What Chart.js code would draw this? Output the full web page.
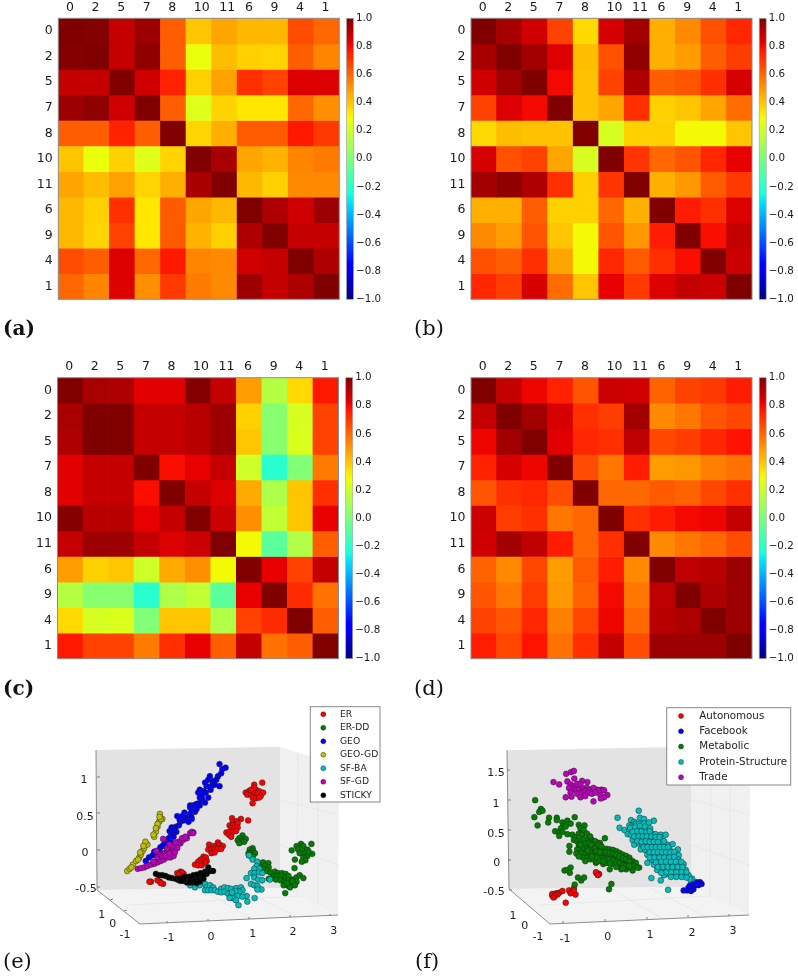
<!DOCTYPE html>
<html><head><meta charset="utf-8">
<script src="https://cdn.jsdelivr.net/npm/chart.js@4"></script>
<style>
html,body{margin:0;padding:0;background:#fff;width:798px;height:976px;overflow:hidden}
canvas{position:absolute;display:block}
.tag{position:absolute;font-family:"DejaVu Serif",serif;font-size:20px;line-height:24px;color:#111}
</style></head><body>
<script>
const rowLabels=['0','2','5','7','8','10','11','6','9','4','1'];
const colLabels=['0','2','5','7','8','10','11','6','9','4','1'];
const matA=[
[1.0,.99,.88,.95,.62,.40,.47,.43,.43,.66,.60],
[.99,1.0,.88,.97,.62,.27,.42,.38,.37,.62,.54],
[.88,.88,1.0,.86,.75,.38,.48,.72,.68,.84,.84],
[.95,.97,.86,1.0,.62,.24,.37,.33,.33,.60,.52],
[.62,.62,.75,.62,1.0,.37,.45,.63,.63,.77,.70],
[.40,.27,.38,.24,.37,1.0,.93,.47,.44,.54,.56],
[.47,.42,.48,.37,.45,.93,1.0,.43,.38,.53,.53],
[.43,.38,.72,.33,.63,.47,.43,1.0,.92,.86,.95],
[.43,.37,.68,.33,.63,.44,.38,.92,1.0,.88,.88],
[.66,.62,.84,.60,.77,.54,.53,.86,.88,1.0,.92],
[.60,.54,.84,.52,.70,.56,.53,.95,.88,.92,1.0]];
const matB=[
[1.0,.93,.86,.68,.36,.85,.94,.45,.53,.65,.74],
[.93,1.0,.94,.84,.42,.65,.97,.45,.49,.62,.69],
[.86,.94,1.0,.80,.41,.68,.92,.62,.64,.72,.85],
[.68,.84,.80,1.0,.41,.47,.72,.38,.40,.47,.59],
[.36,.42,.41,.41,1.0,.22,.38,.38,.29,.29,.40],
[.85,.65,.68,.47,.22,1.0,.71,.60,.64,.74,.82],
[.94,.97,.92,.72,.38,.71,1.0,.45,.50,.63,.70],
[.45,.45,.62,.38,.38,.60,.45,1.0,.76,.72,.84],
[.53,.49,.64,.40,.29,.64,.50,.76,1.0,.79,.88],
[.65,.62,.72,.47,.29,.74,.63,.72,.79,1.0,.87],
[.74,.69,.85,.59,.40,.82,.70,.84,.88,.87,1.0]];
const matC=[
[1.0,.93,.92,.83,.83,.99,.88,.49,.14,.36,.77],
[.93,1.0,1.0,.88,.88,.90,.95,.38,.03,.22,.68],
[.92,1.0,1.0,.88,.88,.90,.95,.40,.03,.23,.68],
[.83,.88,.88,1.0,.79,.82,.88,.20,-.20,.01,.56],
[.83,.88,.88,.79,1.0,.88,.84,.46,.12,.40,.72],
[.99,.90,.90,.82,.88,1.0,.87,.52,.17,.40,.82],
[.88,.95,.95,.88,.84,.87,1.0,.29,-.08,.13,.62],
[.49,.38,.40,.20,.46,.52,.29,1.0,.82,.68,.88],
[.14,.03,.03,-.20,.12,.17,-.08,.82,1.0,.73,.58],
[.36,.22,.23,.01,.40,.40,.13,.68,.73,1.0,.62],
[.77,.68,.68,.56,.72,.82,.62,.88,.58,.62,1.0]];
const matD=[
[1.0,.88,.81,.75,.64,.87,.86,.61,.68,.70,.76],
[.88,1.0,.94,.85,.72,.69,.94,.53,.57,.64,.67],
[.81,.94,1.0,.83,.74,.72,.89,.67,.69,.74,.78],
[.75,.85,.81,1.0,.66,.57,.76,.49,.50,.55,.58],
[.64,.72,.74,.66,1.0,.60,.60,.63,.61,.67,.72],
[.87,.69,.72,.57,.60,1.0,.72,.76,.80,.81,.88],
[.86,.94,.89,.76,.60,.72,1.0,.53,.57,.60,.66],
[.61,.53,.67,.49,.63,.76,.53,1.0,.89,.90,.95],
[.64,.57,.69,.50,.61,.80,.57,.89,1.0,.92,.95],
[.68,.64,.74,.55,.67,.81,.60,.90,.92,1.0,.95],
[.76,.67,.78,.58,.72,.88,.66,.95,.95,.95,1.0]];

const synthNames=['ER','ER-DD','GEO','GEO-GD','SF-BA','SF-GD','STICKY'];
const synthColors=['#ff0000','#008000','#0000ff','#bfbf00','#00bfbf','#bf00bf','#000000'];
const erPts=[[1.15,.91],[1.35,.94],[.94,.80],[1.02,.82],[1.11,.84],[1.19,.84],[1.27,.82],[1.37,.80],[.98,.77],[1.07,.78],[1.15,.80],[1.23,.78],[1.31,.75],[1.11,.73],[1.19,.72],[1.27,.73],[1.11,.65],[1.15,.87],[1.07,.84],
[.6,.44],[.82,.43],[1.0,.41],[.62,.39],[.72,.40],[.54,.34],[.63,.34],[.74,.37],[.58,.30],[.66,.30],[.74,.31],[.46,.24],[.54,.25],[.62,.25],[.70,.26],[.52,.21],[.58,.18],
[.03,.07],[.25,.10],[.13,.05],[.21,.05],[.29,.07],[.37,.05],[.01,0],[.09,0],[.17,.01],[.25,.01],[.33,.01],[.09,-.05],[.17,-.04],
[-.11,-.10],[-.05,-.11],[-.18,-.14],[-.10,-.15],[-.03,-.16],[-.24,-.17],[-.15,-.18],[-.07,-.18],[-.32,-.21],[-.24,-.22],[-.15,-.22],
[-.68,-.31],[-.60,-.34],[-.76,-.33],[-.64,-.32],[-.72,-.35],
[-1.41,-.45],[-1.45,-.45],[-1.19,-.45],[-1.25,-.43],[-1.11,-.48],[-1.17,-.47]];
const erddPts=[[.86,.20],[.78,.16],[.88,.15],[.94,.15],[.74,.13],[.82,.11],[.90,.11],[.78,.09],
[1.11,.02],[1.04,0],[1.12,-.02],[1.01,-.05],[1.09,-.05],[1.17,-.05],[1.02,-.08],[1.12,-.09],
[2.31,.08],[2.57,.08],[2.2,.05],[2.37,.05],[2.08,-.01],[2.24,0],[2.34,-.01],[2.47,0],[2.28,-.05],[2.41,-.05],[2.59,-.06],[2.47,-.09],[2.16,-.14],[2.37,-.11],[2.42,-.15],[2.33,-.17],[2.5,-.03],
[1.27,-.19],[1.37,-.18],[1.5,-.19],[1.31,-.24],[1.41,-.23],[1.51,-.25],[1.39,-.28],[1.47,-.30],[1.55,-.32],[1.51,-.41],[1.66,-.31],[1.74,-.33],[1.84,-.33],[1.93,-.34],[1.63,-.37],[1.72,-.37],[1.82,-.37],[1.92,-.39],[2.0,-.37],[1.59,-.40],[1.69,-.42],[1.80,-.43],[1.90,-.45],[2.0,-.43],[2.10,-.42],[2.2,-.39],[2.28,-.36],[2.37,-.40],[2.15,-.26],[2.2,-.45],[2.08,-.48],[2.16,-.5],[2.0,-.51],[1.88,-.5],[1.92,-.61],[2.04,-.53],[1.96,-.47],[2.1,-.44]];
const geoPts=[[-1.54,-.16],[-1.46,-.11],[-1.37,-.08],[-1.29,-.05],[-1.21,-.01],[-1.13,.05],[-1.05,.09],[-.97,.16],[-.91,.21],[-.85,.23],[-.78,.25],[-.90,.31],[-.80,.32],[-.72,.34],[-.68,.39],[-.76,.47],[-.64,.47],[-.60,.41],[-.56,.43],[-.52,.47],[-.44,.50],[-.48,.39],[-.40,.43],[-.32,.62],[-.44,.62],[-.32,.53],[-.22,.65],[-.20,.73],[-1.01,.05],[-1.09,.07],[-.85,.18],[-.93,.11],[-.44,.59],[-.36,.62],[-.28,.64],[-.20,.62],[-.07,.66],[-.28,.57],[-.40,.53],[-.41,.46],[-.24,.8],[-.20,.84],[-.11,.82],[-.03,.89],[-.07,.94],[.01,.98],[.05,1.03],[.13,.96],[.21,.98],[.25,1.03],[.17,.91],[.29,.89],[.07,.84],[.01,.73],[-.15,.75],[.33,1.07],[.36,1.13],[.44,1.15],[.29,1.2],[.1,.9],[-.05,.8],[-.14,.7],[-.58,.52],[-.7,.42],[-.83,.28],[-.95,.26],[-1.18,.03],[-1.33,-.03]];
const geogdPts=[[-2.0,-.30],[-1.94,-.27],[-1.86,-.21],[-1.78,-.16],[-1.70,-.11],[-1.66,-.07],[-1.62,-.02],[-1.58,.02],[-1.50,.07],[-1.73,-.14],[-1.55,.11],[-1.33,.18],[-1.29,.25],[-1.25,.32],[-1.21,.39],[-1.19,.50],[-1.13,.43],[-1.17,.43],[-1.25,.36],[-1.29,.30],[-1.35,.21],[-1.2,.46],[-1.6,.05],[-1.68,-.04],[-1.9,-.25]];
const sfbaPts=[[1.02,-.08],[1.11,-.14],[1.23,-.17],[1.21,-.23],[1.28,-.27],[1.15,-.27],[1.07,-.33],[1.16,-.33],[1.27,-.32],[1.35,-.33],[.96,-.40],[1.15,-.39],[1.25,-.42],[1.35,-.43],[1.07,-.48],[1.15,-.50],[1.23,-.51],[1.33,-.56],[1.23,-.56],[1.54,-.42],
[-.07,-.48],[-.03,-.53],[.05,-.50],[.13,-.53],[-.07,-.57],[.01,-.57],[.09,-.57],[.17,-.57],[.25,-.59],[.33,-.55],[.41,-.53],[.5,-.54],[.58,-.55],[.70,-.54],[.82,-.53],[.86,-.57],[.78,-.59],[.33,-.6],[.41,-.59],[.5,-.62],[.58,-.63],[.66,-.62],[.74,-.65],[.62,-.68],[.70,-.71],[.76,-.78],[.96,-.65],[.98,-.73],[1.16,-.68],[.86,-.66],[.54,-.68],[-.20,-.5],[-.32,-.53],[-.44,-.5],[.68,-.58],[.6,-.6]];
const sfgdPts=[[-1.74,-.27],[-1.66,-.26],[-1.58,-.25],[-1.50,-.23],[-1.41,-.21],[-1.33,-.20],[-1.25,-.18],[-1.17,-.16],[-1.09,-.14],[-1.01,-.11],[-.93,-.11],[-.85,-.09],[-1.25,-.11],[-1.17,-.07],[-1.09,-.05],[-1.01,-.02],[-.93,0],[-.85,0],[-.76,.05],[-.68,.09],[-.60,.14],[-.52,.16],[-.44,.23],[-.36,.24],[-.72,.11],[-.64,.16],[-1.11,.15],[-1.28,-.02],[-1.01,.02],[-1.13,-.09],[-1.35,-.17],[-.76,.02],[-.56,.18],[-.40,.25],[-.37,.23],[-1.05,-.08],[-.95,-.05],[-.82,-.04],[-.88,.05],[-.95,.07],[-.8,.1]];
const stickyPts=[[-1.29,-.34],[-1.21,-.36],[-1.13,-.36],[-1.05,-.37],[-.97,-.39],[-.89,-.40],[-.80,-.41],[-.72,-.43],[-.64,-.41],[-.56,-.41],[-.48,-.42],[-.40,-.39],[-.32,-.41],[-.24,-.39],[-.52,-.46],[-.40,-.46],[-.28,-.46],[-.20,-.43],[-.40,-.43],[-.32,-.44],[-.24,-.42],[-.28,-.47],[-.2,-.45],[-.15,-.37],[-.11,-.41],[-.07,-.31],[.01,-.25],[.05,-.30],[.13,-.30],[-.03,-.34],[-.6,-.44],[-.7,-.4],[-.46,-.38],[-.36,-.36],[-.27,-.35],[-.18,-.33],[-.1,-.36],[-.58,-.38],[-.66,-.44],[-.45,-.46]];

const realNames=['Autonomous','Facebook','Metabolic','Protein-Structure','Trade'];
const realColors=['#ff0000','#0000ff','#008000','#00bfbf','#bf00bf'];
const autoPts=[[-.96,-.74],[-1.29,-.62],[-1.24,-.64],[-1.2,-.58],[-1.29,-.59],[-1.12,-.57],[-1.04,-.54],[-1.16,-.6],[-1.22,-.61],[-1.26,-.65],[-.88,-.53],[-.76,-.49],[-.80,-.56],[-.72,-.60],[-.84,-.58],[-.76,-.53],[-.2,-.24],[-.18,-.24],[-.14,-.25],[-.22,-.22],[-.17,-.27]];
const fbPts=[[1.93,-.53],[2.01,-.53],[2.11,-.54],[2.05,-.48],[2.13,-.47],[2.21,-.44],[2.17,-.51],[2.25,-.39],[2.33,-.39],[2.37,-.42],[2.29,-.44],[2.17,-.42],[2.09,-.44],[2.27,-.41]];
const metaPts=[[-1.71,1.01],[-1.57,.86],[-1.61,.81],[-1.53,.83],[-1.73,.72],[-1.65,.58],[-1.37,.71],[-1.39,.63],[-1.18,.71],[-1.18,.67],[-.74,.72],[-.92,.66],[-1.04,.63],[-.84,.61],[-1.02,.57],[-1.08,.53],[-.96,.56],[-1.22,.48],[-1.12,.46],[-1.04,.47],[-1.12,.40],[-.92,.43],[-.64,.59],[-.50,.58],[-.60,.53],[-.52,.50],[-.80,.42],[-.72,.38],[-.64,.44],[-.56,.42],[-.44,.44],[-.76,.33],[-.68,.31],[-.60,.33],[-.52,.34],[-.40,.36],[-.32,.33],[-.87,.23],[-.87,.13],[-.64,.25],[-.56,.25],[-.48,.27],[-.40,.28],[-.28,.27],[-.2,.29],[-.68,.17],[-.60,.18],[-.52,.18],[-.44,.19],[-.36,.19],[-.28,.18],[-.2,.21],[-.12,.22],[-.56,.11],[-.48,.10],[-.40,.11],[-.32,.11],[-.24,.12],[-.16,.14],[-.54,.03],[-.44,.03],[-.36,0],[-.22,-.06],[-.28,.06],[-.99,-.19],[-.92,-.18],[-.84,-.14],[-.86,-.23],[-.66,-.31],[-.58,-.36],[-.51,-.31],[-.74,-.43],
[-.36,.39],[-.24,.31],[-.12,.28],[0,.36],[-.28,.25],[-.12,.19],[-.04,.17],[.04,.18],[.12,.17],[.20,.16],[.28,.14],[.36,.11],[.44,.08],[.52,.06],[.60,.03],[.68,-.03],[.76,-.06],[.84,-.14],[-.16,.08],[-.08,.08],[0,.06],[.08,.07],[.16,.06],[.24,.03],[.32,0],[.40,0],[.48,-.03],[.56,-.06],[.64,-.08],[.72,-.11],[.80,-.14],[.68,-.19],[-.28,0],[-.2,-.04],[-.04,-.08],[.12,-.17],[.04,-.06],[.2,-.08],[.32,-.11],[.4,-.17],[.52,-.17],[.6,-.14],[.16,-.42],[.1,-.51],
[-.04,.12],[.04,.12],[.12,.11],[.2,.1],[.28,.08],[.36,.05],[.44,.02],[.52,0],[.6,-.03],[-.12,.03],[-.04,.01],[.04,0],[.12,0],[.2,-.02],[.28,-.05],[.36,-.07],[.44,-.1],[.52,-.11],[.6,-.11],[-.2,.03],[-.12,-.03],[-.04,-.04],[.12,-.07],[.28,-.13],[.44,-.15],[-.6,.25],[-.7,.1],[-.64,.05],[-.48,-.03],[-.34,.25],[-.24,.2],[-.16,.25],[-.08,.22],[-.32,.05],[-.42,.15],[-.2,.14],[-.12,.12]];
const protPts=[[.83,.83],[.31,.71],[.36,.54],[.64,.67],[.72,.64],[.86,.71],[.96,.69],[1.2,.66],[.60,.58],[.68,.58],[.76,.61],[.84,.61],[.96,.61],[1.08,.63],[.48,.50],[.60,.50],[.70,.50],[.80,.53],[.91,.53],[1.0,.51],[1.11,.53],[.56,.43],[.64,.42],[.75,.43],[.84,.44],[.94,.44],[1.04,.43],[1.15,.44],[1.24,.43],[1.37,.42],[1.49,.42],[.68,.33],[.78,.35],[.88,.35],[.99,.35],[1.08,.35],[1.18,.35],[1.28,.33],[1.39,.33],[.72,.25],[.83,.27],[.92,.25],[1.02,.27],[1.12,.25],[1.23,.27],[1.33,.25],[1.42,.27],[1.53,.25],[1.66,.26],[.88,.17],[.99,.16],[1.08,.17],[1.18,.17],[1.28,.17],[1.39,.16],[1.49,.17],[1.58,.17],[1.79,.17],[1.04,.08],[1.15,.07],[1.24,.08],[1.34,.07],[1.45,.08],[1.55,.07],[1.65,.08],[1.81,.07],[1.04,-.06],[1.16,-.01],[1.28,0],[1.39,-.01],[1.49,0],[1.59,-.01],[1.69,0],[1.79,0],[1.2,-.09],[1.33,-.08],[1.45,-.09],[1.57,-.08],[1.69,-.09],[1.81,-.08],[1.93,-.08],[1.28,-.18],[1.41,-.18],[1.53,-.17],[1.65,-.18],[1.77,-.18],[1.89,-.17],[1.98,-.18],[1.14,-.32],[1.37,-.36],[1.45,-.27],[1.57,-.25],[1.69,-.27],[1.81,-.25],[1.93,-.27],[2.05,-.27],[2.14,-.33],[2.09,-.34],[1.55,-.52],
[.62,.54],[.74,.56],[.86,.57],[.98,.56],[.68,.47],[.8,.48],[.9,.48],[1.02,.47],[1.1,.48],[.72,.39],[.83,.39],[.93,.39],[1.03,.39],[1.14,.39],[1.24,.38],[1.34,.38],[.8,.31],[.9,.3],[1.0,.31],[1.1,.3],[1.2,.3],[1.3,.29],[1.45,.31],[.95,.21],[1.05,.21],[1.15,.21],[1.25,.21],[1.35,.21],[1.45,.21],[1.55,.21],[1.1,.12],[1.2,.12],[1.3,.12],[1.4,.12],[1.5,.12],[1.6,.12],[1.7,.13],[1.1,.03],[1.22,.03],[1.34,.03],[1.46,.03],[1.58,.03],[1.7,.04],[1.25,-.05],[1.38,-.04],[1.5,-.04],[1.62,-.04],[1.74,-.04],[1.87,-.04],[1.3,-.13],[1.42,-.13],[1.54,-.13],[1.66,-.13],[1.78,-.13],[1.9,-.13],[2.0,-.22],[1.87,-.22],[1.75,-.22],[1.62,-.22],[1.5,-.22],[1.38,-.23],[1.62,-.3],[1.75,-.3],[1.88,-.3],[2.0,-.31]];
const tradePts=[[-1.26,1.32],[-1.12,1.28],[-.95,1.46],[-.83,1.49],[-.76,1.51],[-.92,1.33],[-.75,1.38],[-.56,1.34],[-.43,1.32],[-.84,1.28],[-.76,1.25],[-.68,1.29],[-.60,1.28],[-.88,1.22],[-.80,1.19],[-.72,1.19],[-.64,1.19],[-.52,1.21],[-.44,1.22],[-.36,1.19],[-.28,1.18],[-.2,1.19],[-.84,1.14],[-.68,1.12],[-.56,1.14],[-.48,1.17],[-.40,1.14],[-.32,1.12],[-.96,1.06],[-.82,1.07],[-.60,1.06],[-.48,1.08],[-.28,.99],[-.12,1.11],[-.08,1.19],[-.28,1.22],[-.16,1.18],[-.02,1.18],[.06,1.10],[-.02,1.06],[-.10,1.04],[-.24,1.14]];

function jet(v){
  const t=Math.max(0,Math.min(1,(v+1)/2));
  const seg=(p)=>{for(let i=1;i<p.length;i++){if(t<=p[i][0]){const a=p[i-1],b=p[i];return a[1]+(b[1]-a[1])*(t-a[0])/(b[0]-a[0]);}}return p[p.length-1][1];};
  const r=seg([[0,0],[.35,0],[.66,1],[.89,1],[1,.5]]);
  const g=seg([[0,0],[.125,0],[.375,1],[.64,1],[.91,0],[1,0]]);
  const b=seg([[0,.5],[.11,1],[.34,1],[.65,0],[1,0]]);
  return `rgb(${Math.round(r*255)},${Math.round(g*255)},${Math.round(b*255)})`;
}
const FONT='"DejaVu Sans",sans-serif';
const heatFrame={id:'heatFrame',afterDraw(chart){
  const {ctx,chartArea:a,scales}=chart,cb=scales.cb;
  const x0=a.right+7.2,w=7,y0=cb.getPixelForValue(1),y1=cb.getPixelForValue(-1);
  const g=ctx.createLinearGradient(0,y1,0,y0);
  for(let i=0;i<=64;i++){g.addColorStop(i/64,jet(-1+2*i/64));}
  ctx.save();ctx.fillStyle=g;ctx.fillRect(x0,y0,w,y1-y0);
  ctx.strokeStyle='#a8a8a8';ctx.lineWidth=.7;ctx.strokeRect(x0,y0,w,y1-y0);
  ctx.strokeStyle='#8c8c8c';ctx.lineWidth=1;ctx.strokeRect(a.left,a.top,a.right-a.left,a.bottom-a.top);
  ctx.restore();
}};
const noGrid={display:false,drawTicks:false};
function heat(mat,left,top,w,h,yw,xh){
  const c=document.createElement('canvas');c.width=w;c.height=h;c.style.left=left+'px';c.style.top=top+'px';document.body.appendChild(c);
  const plotW=281,plotH=281;
  new Chart(c,{type:'bar',plugins:[heatFrame],
   data:{labels:colLabels,datasets:rowLabels.map((r,i)=>({label:r,data:colLabels.map(()=>[i,i+1]),backgroundColor:mat[i].map(jet),grouped:false,barPercentage:1,categoryPercentage:1,borderWidth:0}))},
   options:{responsive:false,animation:false,maintainAspectRatio:false,
    layout:{padding:{left:0,top:0,right:0,bottom:h-xh-plotH}},
    plugins:{legend:{display:false},tooltip:{enabled:false}},
    scales:{
     x:{type:'category',position:'top',offset:true,grid:noGrid,border:{display:false},
        afterFit(s){s.height=xh;},
        ticks:{autoSkip:false,maxRotation:0,minRotation:0,align:'start',labelOffset:-5,padding:3,color:'#1a1a1a',font:{family:FONT,size:12.5}}},
     y:{type:'linear',position:'left',min:0,max:11,reverse:true,grid:noGrid,border:{display:false},
        afterBuildTicks(s){s.ticks=rowLabels.map((l,i)=>({value:i+.5}));},
        afterFit(s){s.width=yw;},
        ticks:{autoSkip:false,padding:5.6,color:'#1a1a1a',font:{family:FONT,size:12.5},callback:v=>rowLabels[Math.floor(v)]}},
     cb:{axis:'y',type:'linear',position:'right',min:-1,max:1,grid:noGrid,border:{display:false},
        afterFit(s){s.width=w-yw-plotW;},
        ticks:{stepSize:.2,autoSkip:false,padding:16.7,color:'#1a1a1a',font:{family:FONT,size:10.3},
               callback:v=>{const n=Math.round(v*10)/10;return (n<0?'\u2212':'')+Math.abs(n).toFixed(1);}}}
    }}});
}
heat(matA,0,-5,400,328,58.3,23.3);
heat(matB,400,-5,398,328,71,23.3);
heat(matC,0,350,400,332,57.5,27.7);
heat(matD,400,350,398,332,71,27.7);

const frame3d={id:'frame3d',
 beforeDatasetsDraw(chart){
  const g=chart.options.plugins.frame3d,{ctx}=chart;
  const poly=(pts,fill)=>{ctx.beginPath();pts.forEach((p,i)=>{const x=p[0]-g.ox,y=p[1]-g.oy;i?ctx.lineTo(x,y):ctx.moveTo(x,y);});ctx.closePath();ctx.fillStyle=fill;ctx.fill();};
  const line=(a,b,col,w)=>{ctx.beginPath();ctx.moveTo(a[0]-g.ox,a[1]-g.oy);ctx.lineTo(b[0]-g.ox,b[1]-g.oy);ctx.strokeStyle=col;ctx.lineWidth=w;ctx.stroke();};
  ctx.save();
  const {tl,tr,far,bl,br,fl,fr}=g;
  poly([tl,tr,br,bl],'#e3e3e3');
  poly([tr,far,fr,br],'#f0f0f0');
  poly([bl,br,fr,fl],'#f3f3f3');
  g.grid.forEach(s=>line(s[0],s[1],'#e4e4e4',.7));
  line(tl,bl,'#8c8c8c',1);line(bl,fl,'#8c8c8c',1);line(fl,fr,'#8c8c8c',1);
  g.ticks.forEach(t=>line(t[0],t[1],'#666',.8));
  ctx.fillStyle='#222';ctx.font=`11px ${FONT}`;ctx.textAlign='center';ctx.textBaseline='middle';
  g.labels.forEach(l=>ctx.fillText(l[0],l[1]-g.ox,l[2]-g.oy));
  ctx.restore();
 },
 afterDatasetsDraw(chart){
  const g=chart.options.plugins.frame3d,{ctx}=chart,L=g.legend;
  ctx.save();
  ctx.fillStyle='#fff';ctx.strokeStyle='#888';ctx.lineWidth=1;
  ctx.fillRect(L.x0-g.ox,L.y0-g.oy,L.x1-L.x0,L.y1-L.y0);ctx.strokeRect(L.x0-g.ox,L.y0-g.oy,L.x1-L.x0,L.y1-L.y0);
  ctx.textAlign='left';ctx.textBaseline='middle';ctx.font=`${L.size}px ${FONT}`;
  L.names.forEach((n,i)=>{const y=L.first+i*L.step-g.oy;
    ctx.beginPath();ctx.arc(L.mx-g.ox,y,2.5,0,Math.PI*2);ctx.fillStyle=L.colors[i];ctx.fill();ctx.strokeStyle='#111';ctx.lineWidth=.4;ctx.stroke();
    ctx.fillStyle='#222';ctx.fillText(n,L.tx-g.ox,y);});
  ctx.restore();
 }};
function scatter3d(left,top,w,h,xr,yr,series,names,colors,geom){
  const c=document.createElement('canvas');c.width=w;c.height=h;c.style.left=left+'px';c.style.top=top+'px';document.body.appendChild(c);
  new Chart(c,{type:'scatter',plugins:[frame3d],
   data:{datasets:series.map((s,i)=>({label:names[i],order:series.length-i,data:s.map(p=>({x:p[0],y:p[1]})),backgroundColor:colors[i],borderColor:'#222',borderWidth:.5,pointRadius:2.9,pointHoverRadius:2.9}))},
   options:{responsive:false,animation:false,maintainAspectRatio:false,layout:{padding:0},
    plugins:{legend:{display:false},tooltip:{enabled:false},frame3d:geom},
    scales:{x:{type:'linear',display:false,min:xr[0],max:xr[1]},y:{type:'linear',display:false,min:yr[0],max:yr[1]}}}});
}
scatter3d(0,690,399,286,[-208/41,191/41],[-126/73,160/73],[erPts,erddPts,geoPts,geogdPts,sfbaPts,sfgdPts,stickyPts],synthNames,synthColors,{
 ox:0,oy:690,tl:[96,750],tr:[280,746.7],far:[339,766],bl:[97,890],br:[280,888],fl:[140,924],fr:[338,915],
 grid:[[[298,752],[297,895]],[[318,759],[318,905]],[[280,800],[339,815]],[[280,845],[339,865]],[[200,889],[255,920]],[[240,889],[297,917]],[[130,905],[300,896]]],
 ticks:[[[97,777],[100,777]],[[97,813],[100,813]],[[97,850],[100,850]],[[97,887],[100,887]],[[167,923],[167,921]],[[208,921],[208,919]],[[249,919],[249,917]],[[290,917],[290,915]],[[330,916],[330,914]],[[110,900],[113,899]],[[124,911],[127,910]]],
 labels:[['1',84,780],['0.5',85,817],['0',85,853],['-0.5',86,889],['1',101.7,915],['0',112.7,924],['-1',125,935],['-1',169,938],['0',211,937],['1',252.7,934],['2',293,932],['3',333.7,930.7]],
 legend:{x0:310.3,y0:706.7,x1:380,y1:802,mx:323.3,tx:340,first:714.3,step:13.5,size:9.2,names:synthNames,colors:synthColors}});
scatter3d(400,690,398,286,[-205/41.5,193/41.5],[-116/60,170/60],[autoPts,fbPts,metaPts,protPts,tradePts],realNames,realColors,{
 ox:400,oy:690,tl:[507,750.3],tr:[691,746.7],far:[750,767],bl:[509,889],br:[691,887],fl:[550,924],fr:[749,915],
 grid:[[[711,754],[710,896]],[[730,761],[730,905]],[[691,800],[750,815]],[[691,845],[750,865]],[[610,888],[665,920]],[[650,888],[707,917]],[[540,905],[710,896]]],
 ticks:[[[507,770],[510,770]],[[508,800],[511,800]],[[508,830],[511,830]],[[508,860],[511,860]],[[509,890],[512,890]],[[563,923],[563,921]],[[605,921],[605,919]],[[647,919],[647,917]],[[688,917],[688,915]],[[729,916],[729,914]]],
 labels:[['1.5',496,773],['1',496,803.7],['0.5',496,833.7],['0',496.7,863],['-0.5',494,892],['1',513,915.7],['0',524.7,926],['-1',538,937],['-1',565,939],['0',607.7,937],['1',650,935],['2',692,933],['3',733,930.7]],
 legend:{x0:666.7,y0:707.7,x1:790.7,y1:785,mx:681,tx:699.3,first:716,step:15.3,size:10.3,names:realNames,colors:realColors}});

[['(a)',3,316,1],['(b)',414,316,0],['(c)',3,676,1],['(d)',414,676,0],['(e)',3,949,0],['(f)',415,949,0]].forEach(t=>{
  const d=document.createElement('div');d.className='tag';d.textContent=t[0];d.style.left=t[1]+'px';d.style.top=t[2]+'px';if(t[3])d.style.fontWeight='bold';else d.style.fontSize='21px';document.body.appendChild(d);
});
</script>
</body></html>
